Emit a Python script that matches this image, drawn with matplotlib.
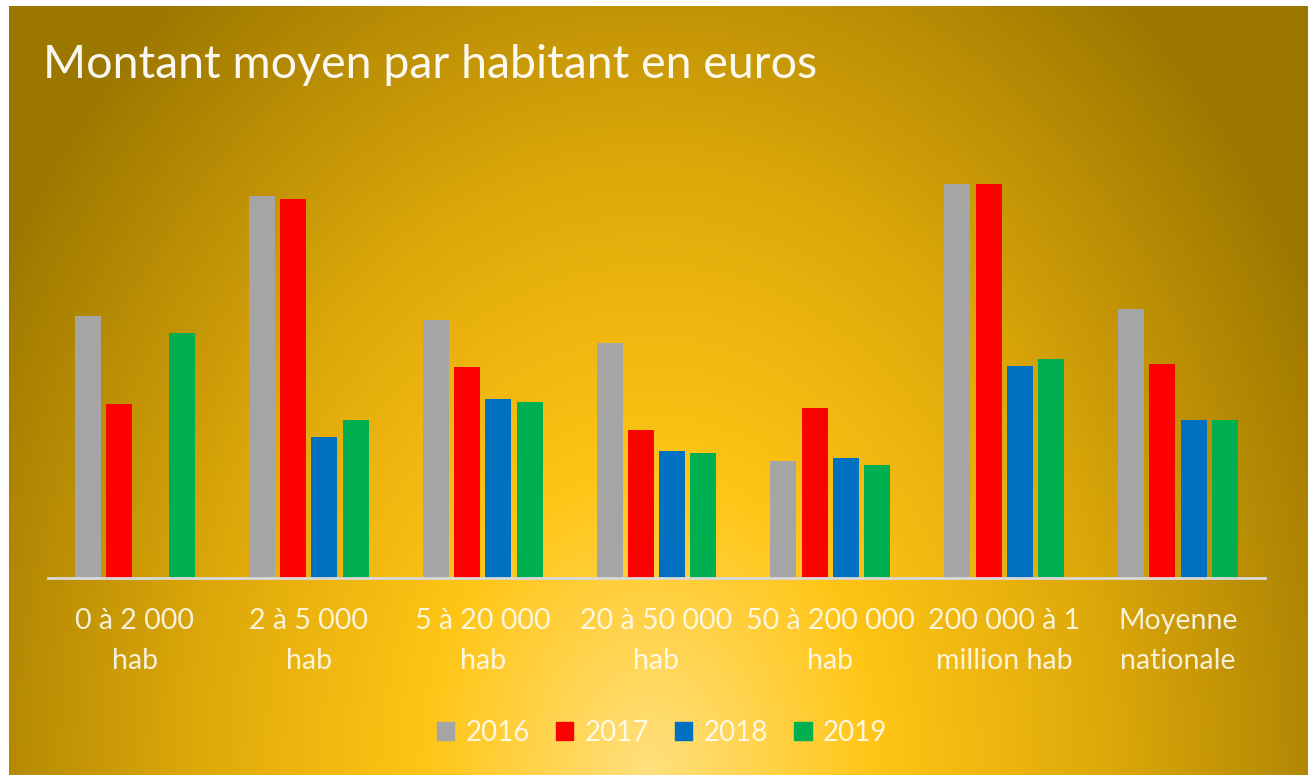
import numpy as np
import matplotlib.pyplot as plt
from matplotlib.colors import LinearSegmentedColormap
from matplotlib.patches import Patch

plt.rcParams['font.family'] = ['Lato', 'DejaVu Sans']

categories = ['0 à 2 000\nhab', '2 à 5 000\nhab', '5 à 20 000\nhab', '20 à 50 000\nhab',
              '50 à 200 000\nhab', '200 000 à 1\nmillion hab', 'Moyenne\nnationale']
years = ['2016', '2017', '2018', '2019']
v2016 = [262, 382, 258, 235, 117, 394, 269]
v2017 = [174, 379, 211, 148, 170, 394, 214]
v2018 = [np.nan, 141, 179, 127, 120, 212, 158]
v2019 = [245, 158, 176, 125, 113, 219, 158]
series = [v2016, v2017, v2018, v2019]
colors = ['#A5A5A5', '#FF0000', '#0070C0', '#00B050']

W, H = 1308, 775
fig = plt.figure(figsize=(W / 100, H / 100), dpi=100)
fig.patch.set_facecolor('white')

# fond dégradé radial
bg = fig.add_axes([9 / W, 0, 1 - 9 / W, 1 - 6 / H])
yy, xx = np.mgrid[6:H, 9:W]
d = np.sqrt(((xx - 650) / 760.0) ** 2 + ((yy - 770) / 1000.0) ** 2)
cmap = LinearSegmentedColormap.from_list('or', [(0, '#FFE07E'), (0.3, '#FFC515'),
                                                (0.6, '#DDA80A'), (1, '#9C7700')])
bg.imshow(np.clip(d, 0, 1), cmap=cmap, vmin=0, vmax=1, aspect='auto',
          interpolation='bilinear')
bg.axis('off')

ax = fig.add_axes([48 / W, 1 - 578 / H, (1265 - 48) / W, (578 - 150) / H])
ax.set_facecolor('none')
x = np.arange(len(categories))
step, width = 0.18, 0.149
for i, (vals, c) in enumerate(zip(series, colors)):
    ax.bar(x + (i - 1.5) * step, vals, width, color=c, label=years[i])

ax.set_xlim(-0.5, 6.5)
ax.set_ylim(0, 428)
for s in ['top', 'right', 'left']:
    ax.spines[s].set_visible(False)
ax.spines['bottom'].set_color('#D9D9D9')
ax.spines['bottom'].set_linewidth(2)
ax.set_yticks([])
ax.set_xticks(x)
ax.set_xticklabels(categories, fontsize=20.5, color='white', alpha=0.85, linespacing=1.65)
ax.tick_params(axis='x', length=0, pad=21.5)

fig.text(43 / W, 1 - 78 / H, 'Montant moyen par habitant en euros', fontsize=33.5,
         color='white', alpha=0.95, va='baseline', ha='left')

handles = [Patch(color=c) for c in colors]
leg = fig.legend(handles, years, loc='center', bbox_to_anchor=(662 / W, 1 - 733 / H), ncol=4,
                 frameon=False, fontsize=20, handlelength=0.62, handleheight=0.62,
                 handletextpad=0.4, columnspacing=0.95)
for t in leg.get_texts():
    t.set_color('white')
    t.set_alpha(0.85)

fig.savefig('out.png', dpi=100)
